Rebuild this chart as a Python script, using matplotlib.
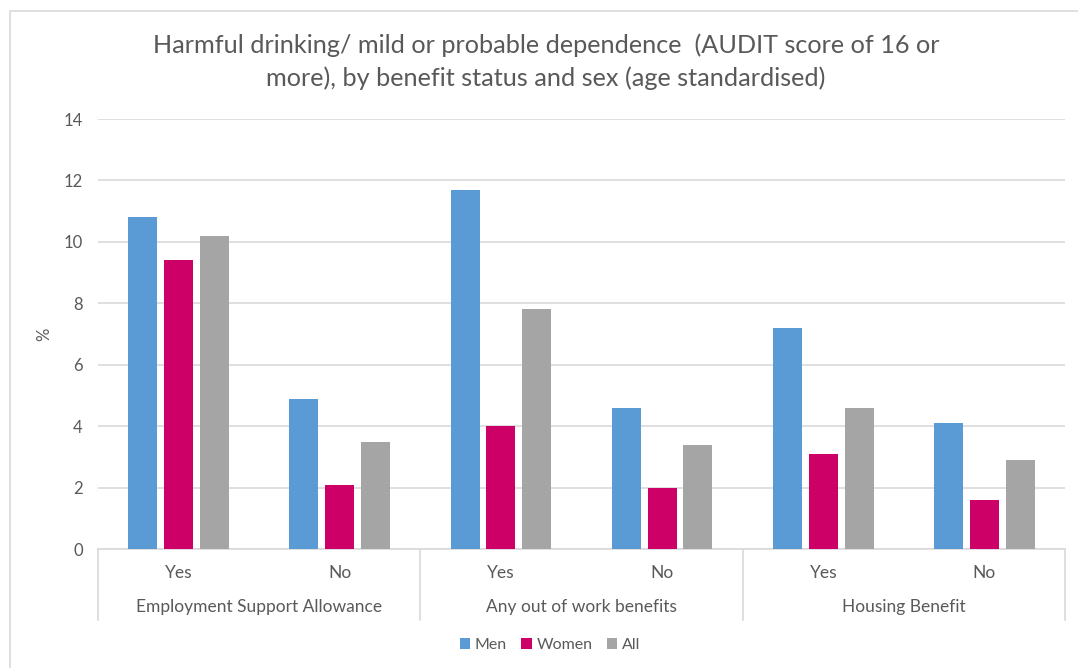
import matplotlib
matplotlib.use("Agg")
import matplotlib.pyplot as plt
from matplotlib.lines import Line2D
from matplotlib.patches import Rectangle
import numpy as np

plt.rcParams['font.family'] = ['Lato', 'DejaVu Sans']

title = ("Harmful drinking/ mild or probable dependence  (AUDIT score of 16 or\n"
         "more), by benefit status and sex (age standardised)")
groups = ["Employment Support Allowance", "Any out of work benefits", "Housing Benefit"]
subcats = ["Yes", "No", "Yes", "No", "Yes", "No"]
series = ["Men", "Women", "All"]
men = [10.8, 4.9, 11.7, 4.6, 7.2, 4.1]
women = [9.4, 2.1, 4.0, 2.0, 3.1, 1.6]
all_ = [10.2, 3.5, 7.8, 3.4, 4.6, 2.9]
colors = ["#5B9BD5", "#CC0066", "#A5A5A5"]
yticks = [0, 2, 4, 6, 8, 10, 12, 14]

W, H = 1078, 668
fig = plt.figure(figsize=(W / 100, H / 100), dpi=100)

# chart frame
fig.patches.append(Rectangle((10 / W, -0.01), 1.02 - 10 / W, 1 - 11 / H + 0.01,
                             transform=fig.transFigure, fill=False,
                             edgecolor="#D9D9D9", linewidth=1.2))

left, right = 98 / W, 1065 / W
bottom, top = 1 - 549 / H, 1 - 119 / H
ax = fig.add_axes([left, bottom, right - left, top - bottom])

x = np.arange(len(subcats))
width = 0.18
offset = 0.222
for i, (vals, c, name) in enumerate(zip([men, women, all_], colors, series)):
    ax.bar(x + (i - 1) * offset, vals, width=width, color=c, label=name, zorder=3)

ax.set_xlim(-0.5, len(subcats) - 0.5)
ax.set_ylim(0, 14)
ax.set_yticks(yticks)
ax.yaxis.grid(True, color="#D9D9D9", linewidth=1.2, zorder=0)
ax.set_axisbelow(True)
for s in ["top", "right", "left"]:
    ax.spines[s].set_visible(False)
ax.spines["bottom"].set_color("#D9D9D9")
ax.spines["bottom"].set_linewidth(1.2)
ax.tick_params(axis="y", length=0, pad=11, labelsize=12, labelcolor="#595959")
ax.tick_params(axis="x", length=0, labelbottom=False)
ax.set_ylabel("%", fontsize=12, color="#595959", labelpad=8)

# two-level category axis
trans = ax.get_xaxis_transform()
for xi, lab in zip(x, subcats):
    ax.text(xi, -24 / 430, lab, transform=trans, ha="center", va="center",
            fontsize=12.5, color="#595959")
for gi, g in enumerate(groups):
    ax.text(2 * gi + 0.5, -58 / 430, g, transform=trans, ha="center", va="center",
            fontsize=12.5, color="#595959")
for b in [-0.5, 1.5, 3.5, 5.5]:
    ax.add_line(Line2D([b, b], [0, -71 / 430], transform=trans, color="#D9D9D9",
                       linewidth=1.2, clip_on=False))

fig.text(546 / W, 1 - 62 / H, title, ha="center", va="center", fontsize=18.2,
         color="#595959", linespacing=1.5)

fig.legend(loc="center", bbox_to_anchor=(550 / W, 1 - 645 / H), ncol=3, frameon=False,
           fontsize=11.5, labelcolor="#595959", handlelength=0.65, handleheight=0.65,
           handletextpad=0.3, columnspacing=0.9)

fig.savefig("out.png", dpi=100, facecolor="white")
